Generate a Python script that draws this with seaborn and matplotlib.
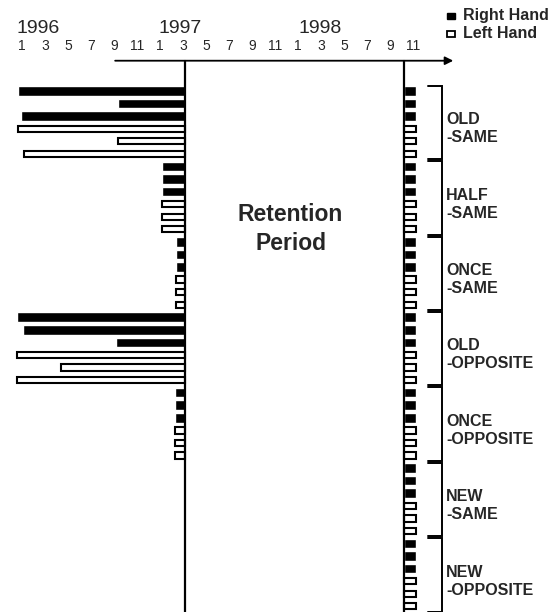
import matplotlib
matplotlib.use("Agg")
import matplotlib.pyplot as plt
import numpy as np
import pandas as pd
import seaborn as sns
from matplotlib.patches import Rectangle

# months counted from Jan 1996 (0 = Jan 1996)
groups = ["OLD\n-SAME", "HALF\n-SAME", "ONCE\n-SAME", "OLD\n-OPPOSITE",
          "ONCE\n-OPPOSITE", "NEW\n-SAME", "NEW\n-OPPOSITE"]
hands = ["Right", "Right", "Right", "Left", "Left", "Left"]

train_start = [
    [-0.35, 8.35, -0.1, -0.35, 8.35, 0.17],      # OLD-SAME
    [12.17, 12.17, 12.17, 12.17, 12.17, 12.17],  # HALF-SAME
    [13.4, 13.4, 13.4, 13.4, 13.4, 13.4],        # ONCE-SAME
    [-0.43, 0.09, 8.17, -0.43, 3.39, -0.43],     # OLD-OPPOSITE
    [13.3, 13.3, 13.3, 13.3, 13.3, 13.3],        # ONCE-OPPOSITE
    [np.nan] * 6,                                # NEW-SAME
    [np.nan] * 6,                                # NEW-OPPOSITE
]
train_end = 14.2
test_start = 33.2
test_end = 34.26

years = ["1996", "1997", "1998"]
year_pos = [-0.45, 11.9, 24.0]
month_labels = ["1", "3", "5", "7", "9", "11"]

rows = []
for g, name in enumerate(groups):
    for k in range(6):
        rows.append({"group": name, "hand": hands[k], "row": g * 6 + k,
                     "start": train_start[g][k]})
df = pd.DataFrame(rows)

sns.set_theme(style="white")
plt.rcParams["font.family"] = ["Liberation Sans", "DejaVu Sans"]

fig = plt.figure(figsize=(5.57, 6.12), dpi=100)
ax = fig.add_axes([0, 0, 1, 1])
ax.set_xlim(-1.913, 46.52)
ax.set_ylim(41.45, -7.24)
ax.axis("off")

filled = dict(color="black", height=0.76)
hollow = dict(facecolor="white", edgecolor="black", linewidth=1.5, height=0.5)

for hand, style in [("Right", filled), ("Left", hollow)]:
    sub = df[df["hand"] == hand]
    tr = sub.dropna(subset=["start"])
    ax.barh(tr["row"], train_end - tr["start"], left=tr["start"], **style)
    ax.barh(sub["row"], test_end - test_start, left=test_start, **style)

# retention boundaries and time axis
axis_y = -2.41
ax.plot([train_end, train_end], [axis_y, 41.45], color="black", lw=1.6)
ax.plot([test_start, test_start], [axis_y, 41.45], color="black", lw=1.6)
ax.annotate("", xy=(37.5, axis_y), xytext=(8.1, axis_y),
            arrowprops=dict(arrowstyle="-|>", color="black", lw=1.3,
                            mutation_scale=12, shrinkA=0, shrinkB=0))

for i, yr in enumerate(years):
    ax.text(year_pos[i], -4.95, yr, fontsize=14, ha="left", va="center")
    for j, ml in enumerate(month_labels):
        ax.text(12 * i + 2 * j, -3.6, ml, fontsize=10, ha="center", va="center")

ax.text(23.35, 10.98, "Retention\nPeriod", fontsize=16.5, fontweight="bold",
        ha="center", va="center", linespacing=1.3)

# brackets and group labels
for g, name in enumerate(groups):
    top = 6 * g - 0.5 + 0.08
    bot = 6 * g + 5.5 - 0.08
    ax.plot([35.3, 36.52, 36.52, 35.3], [top, top, bot, bot],
            color="black", lw=1.4, solid_joinstyle="miter")
    ax.text(36.87, 6 * g + 2.5 + 0.5, name, fontsize=11.5, fontweight="bold",
            ha="left", va="center", linespacing=1.25)

# legend
ax.add_patch(Rectangle((36.96, -5.74), 0.69, -0.5, color="black"))
ax.add_patch(Rectangle((36.96, -4.29), 0.69, -0.45, facecolor="white",
                       edgecolor="black", lw=1.3))
ax.text(38.35, -5.97, "Right Hand", fontsize=11.5, fontweight="bold",
        ha="left", va="center")
ax.text(38.35, -4.61, "Left Hand", fontsize=11.5, fontweight="bold",
        ha="left", va="center")

fig.savefig("out.png", dpi=100)
